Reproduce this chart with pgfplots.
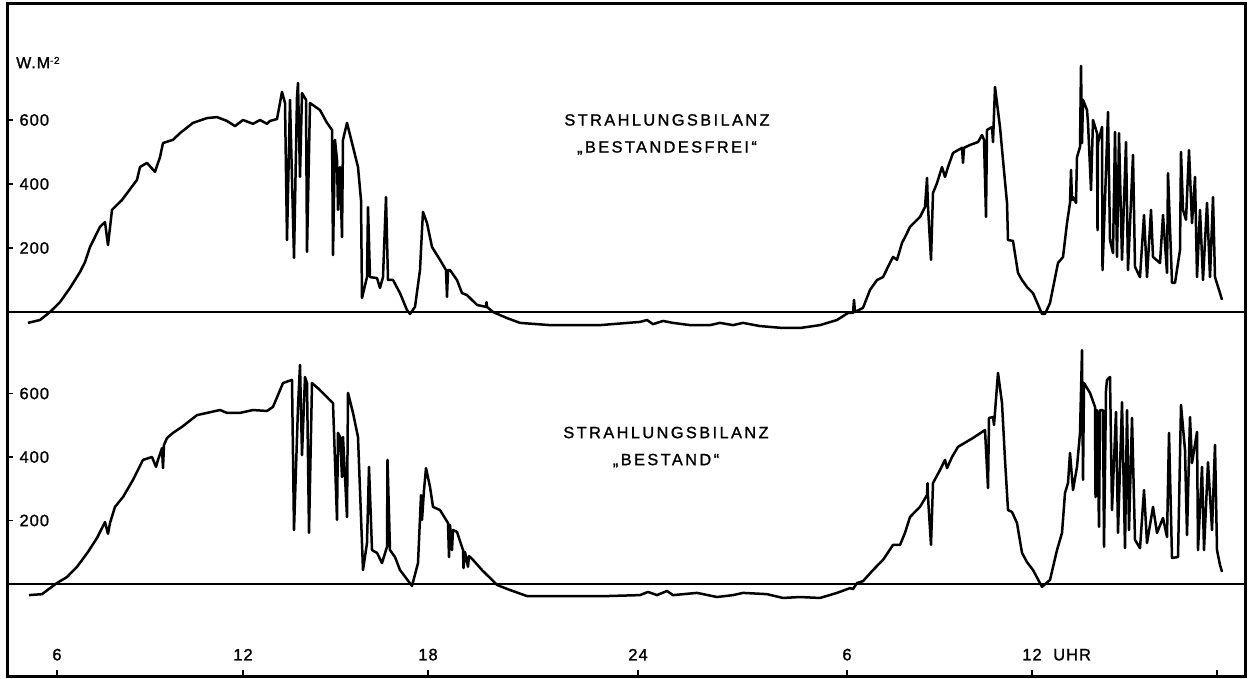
\documentclass[border=0pt]{standalone}
\usepackage{fontspec}
\setmainfont{Liberation Sans}[LetterSpace=15, FakeBold=1.3]
\usepackage{pgfplots}
\pgfplotsset{compat=1.18}
\begin{document}
\begin{tikzpicture}
\useasboundingbox (0pt,0pt) rectangle (1248pt,678pt);
\pgfplotsset{
  panel/.style={
    scale only axis, width=1238pt, height=336pt,
    xmin=7, xmax=1245,
    axis y line=box, ytick pos=left,
    tick align=inside, major tick length=6pt,
    tick style={line width=1.8pt, black},
    ytick={200,400,600},
    yticklabels={\hspace{9pt}200,\hspace{9pt}400,\hspace{9pt}600},
    tick label style={font=\fontsize{16.5}{20}\selectfont\addfontfeature{LetterSpace=6}},
    yticklabel style={anchor=west},
    clip=false,
    every outer x axis line/.append style={-},
    every inner x axis line/.append style={-},
    every outer y axis line/.append style={-},
    every inner y axis line/.append style={-},
    axis line style={-, line width=3pt, line cap=rect},
  },
  curve/.style={black, line width=2.5pt, line join=round},
  zero/.style={black, line width=1.5pt},
}
% ---------------- upper panel: Bestandesfrei ----------------
\begin{axis}[at={(7pt,338pt)}, anchor=south west,
  hide x axis,
  panel,
  ymin=-87.5, ymax=962.5]
\draw[black, line width=3pt, line cap=rect] (rel axis cs:0,1) -- (rel axis cs:1,1);
\addplot[zero] coordinates {(7,0) (1245,0)};
\addplot[curve] coordinates {
(28,-34)(40,-25)(50,0)(60,31)(70,75)(80,125)(85,156)(90,203)(100,266)(105,281)(108,209)(112,319)
(122,350)(137,413)(140,453)(147,466)(155,438)(160,484)(163,528)(173,538)(180,559)(193,591)(207,606)
(217,609)(227,597)(235,581)(243,600)(253,588)(260,600)(267,588)(270,597)(277,603)(282,688)(285,653)
(287,225)(290,663)(294,169)(297,672)(298,716)(300,422)(302,684)(306,663)(307,188)(310,653)(320,631)
(327,591)(332,569)(333,178)(335,538)(337,475)(338,319)(340,453)(342,234)(343,538)(347,591)(353,516)
(358,453)(361,350)(362,44)(367,109)(368,328)(370,109)(377,106)(380,75)(383,109)(386,359)(388,100)
(393,100)(400,59)(407,6)(410,-6)(415,16)(420,131)(422,256)(423,313)(427,278)(432,203)(440,163)
(446,131)(447,47)(448,131)(450,131)(457,100)(462,59)(467,53)(477,22)(486,16)(486.5,31)(487,16)(493,0)
(507,-19)(520,-34)(550,-41)(600,-41)(640,-31)(647,-25)(653,-38)(663,-28)(673,-34)(690,-41)(710,-41)
(720,-34)(733,-41)(743,-34)(760,-44)(783,-50)(800,-50)(820,-41)(837,-25)(848,-3)(853,-3)(854,38)
(855,0)(863,13)(870,69)(877,100)(883,109)(888,141)(893,172)(897,163)(902,216)(905,234)(910,266)
(920,297)(925,328)(927,419)(928,328)(931,163)(933,372)(937,403)(942,453)(945,422)(948,453)(953,497)
(962,513)(963,466)(964,513)(970,522)(978,531)(982,553)(984,538)(986,297)(987,569)(992,578)(993,531)
(995,703)(1000,578)(1003,475)(1007,341)(1008,225)(1013,222)(1018,122)(1022,100)(1027,78)(1033,59)
(1042,-6)(1045,-6)(1050,28)(1058,153)(1063,172)(1067,278)(1070,341)(1071,444)(1072,350)(1073,359)
(1076,341)(1077,484)(1080,516)(1081,769)(1082,528)(1083,663)(1087,631)(1088,591)(1091,381)(1093,600)
(1097,559)(1097.5,256)(1098,528)(1102,578)(1102.5,131)(1105,350)(1108,625)(1110,225)(1113,184)
(1115,563)(1117,172)(1119,559)(1122,163)(1126,531)(1128,131)(1133,491)(1135,141)(1140,109)(1144,303)
(1147,109)(1151,319)(1153,172)(1160,153)(1163,303)(1167,122)(1168,434)(1172,91)(1175,91)(1180,194)
(1181,500)(1183,319)(1186,288)(1189,506)(1192,278)(1195,422)(1197,109)(1200,319)(1203,100)(1207,341)
(1210,109)(1213,359)(1215,109)(1220,59)(1222,38)
};
\node[anchor=base west, font=\fontsize{16}{18}\selectfont\addfontfeature{LetterSpace=6}, inner sep=0pt]
  at (axis cs:16,762) {W.M\raisebox{0.5ex}{\fontsize{10}{11}\selectfont -2}};
\node[align=center, font=\fontsize{16.3}{27}\selectfont]
  at (axis cs:667,555) {STRAHLUNGSBILANZ\\„BESTANDESFREI“};
\end{axis}
% ---------------- lower panel: Bestand ----------------
\begin{axis}[at={(7pt,2pt)}, anchor=south west,
  axis x line=bottom,
  panel,
  xtick={57,243,428,638,847,1032,1217},
  xticklabels={6,12,18,24,6,12\rlap{\hspace{0.7em}UHR},{}},
  xticklabel style={anchor=south, yshift=12pt},
  ymin=-289.8, ymax=768.6]
\addplot[zero] coordinates {(7,0) (1245,0)};
\addplot[curve] coordinates {
(29,-35)(42,-32)(50,-13)(57,3)(67,22)(77,54)(88,101)(97,145)(105,195)(108,158)(110,192)(115,243)
(123,274)(133,328)(143,391)(152,400)(156,369)(158,391)(162,428)(163,365)(164,438)(167,460)(173,476)
(182,495)(197,532)(207,539)(220,548)(227,539)(240,539)(253,548)(267,545)(273,558)(283,633)(292,643)
(294,170)(298,558)(300,690)(302,406)(305,652)(307,633)(309,161)(312,633)(320,611)(333,570)(337,202)
(338,476)(340,463)(342,337)(343,463)(347,211)(348,602)(353,539)(358,463)(363,44)(367,129)(369,369)
(372,107)(377,98)(382,66)(387,117)(387.5,391)(390,107)(395,85)(400,44)(412,-6)(418,66)(421,280)
(422,202)(424,296)(426,365)(430,306)(433,243)(440,233)(448,192)(449,85)(450,186)(452,107)(453,170)
(457,164)(463,107)(463.5,50)(465,101)(468,54)(469,88)(473,76)(482,44)(490,19)(497,-3)(510,-19)
(527,-38)(567,-38)(607,-38)(640,-35)(648,-25)(657,-35)(667,-22)(673,-35)(697,-28)(717,-41)(733,-35)
(743,-28)(767,-32)(783,-44)(800,-41)(820,-44)(837,-28)(850,-13)(853,-16)(857,3)(863,9)(873,44)
(883,76)(893,123)(900,123)(905,161)(910,211)(920,243)(927,280)(927.5,318)(928,274)(931,123)(933,318)
(940,359)(945,391)(947,365)(952,400)(958,432)(973,460)(985,485)(988,302)(989,523)(993,526)(994,501)
(998,665)(1002,570)(1005,391)(1008,233)(1012,227)(1017,192)(1022,98)(1027,69)(1033,44)(1042,-9)
(1050,13)(1057,107)(1062,161)(1065,287)(1068,318)(1070,413)(1073,296)(1077,369)(1080,476)(1082,737)
(1083,328)(1084,633)(1090,602)(1095,558)(1095.5,274)(1097,548)(1099,180)(1100,548)(1103,548)
(1104,117)(1106,611)(1107,643)(1110,652)(1112,233)(1116,542)(1118,161)(1122,573)(1125,113)(1127,548)
(1129,170)(1132,523)(1135,139)(1140,113)(1144,296)(1147,129)(1153,243)(1157,161)(1163,208)(1167,148)
(1169,476)(1172,82)(1178,85)(1181,564)(1185,422)(1187,154)(1190,526)(1192,381)(1197,479)(1198,107)
(1202,369)(1204,107)(1208,384)(1212,170)(1215,438)(1217,107)(1220,60)(1222,38)
};
\node[align=center, font=\fontsize{16.3}{27}\selectfont]
  at (axis cs:666,431.5) {STRAHLUNGSBILANZ\\„BESTAND“};
\end{axis}
\end{tikzpicture}
\end{document}
